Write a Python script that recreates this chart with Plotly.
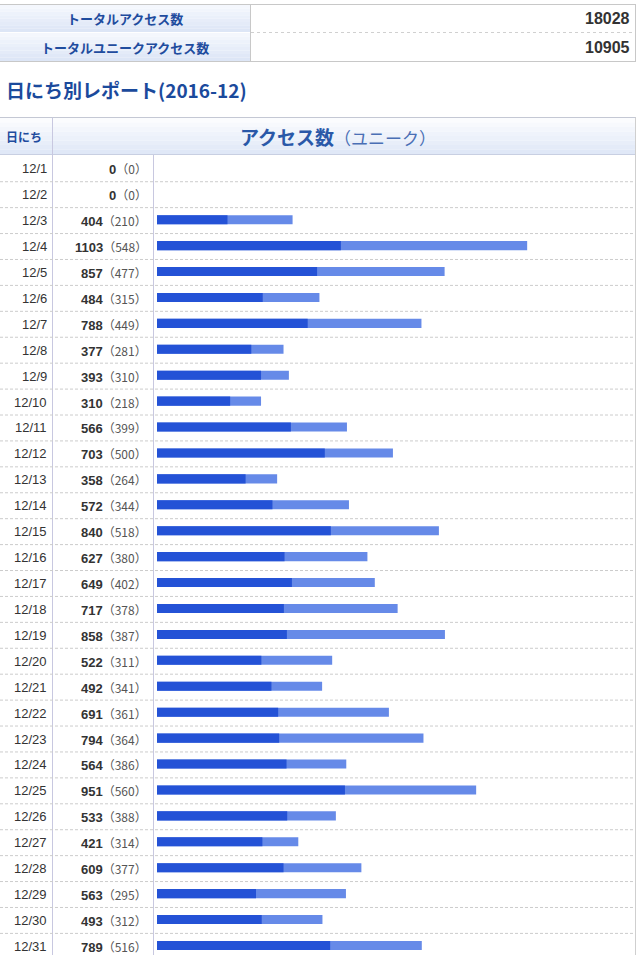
import plotly.graph_objects as go

W, H = 640, 955

dates = [f"12/{d}" for d in range(1, 32)]
total = [0, 0, 404, 1103, 857, 484, 788, 377, 393, 310, 566, 703, 358, 572, 840,
         627, 649, 717, 858, 522, 492, 691, 794, 564, 951, 533, 421, 609, 563, 493, 789]
unique = [0, 0, 210, 548, 477, 315, 449, 281, 310, 218, 399, 500, 264, 344, 518,
          380, 402, 378, 387, 311, 341, 361, 364, 386, 560, 388, 314, 377, 295, 312, 516]

summary_labels = ["トータルアクセス数", "トータルユニークアクセス数"]
summary_values = [18028, 10905]
title_text = "日にち別レポート(2016-12)"
col_day = "日にち"
col_access = "アクセス数"
col_unique = "（ユニーク）"

DARK = "#2452d6"
LIGHT = "#668ae8"
BLUE_TXT = "#1f4c9e"
FONT = "Liberation Sans, Noto Sans CJK JP, sans-serif"
JFONT = "Noto Sans CJK JP, Liberation Sans, sans-serif"

def px(x):
    return x / W

def py(y):
    return 1 - y / H

ROW_TOP = 155.8
ROW_H = 25.92
BAR_X0 = 157
RIGHT = 635.5
SCALE = 0.3356
idx = list(range(len(dates)))

fig = go.Figure()
fig.add_trace(go.Bar(y=idx, x=total, orientation="h", marker=dict(color=LIGHT, line=dict(width=0)),
                     width=0.35, offset=-0.21, hoverinfo="skip", name="total"))
fig.add_trace(go.Bar(y=idx, x=unique, orientation="h", marker=dict(color=DARK, line=dict(width=0)),
                     width=0.35, offset=-0.21, hoverinfo="skip", name="unique"))

shapes = []
annotations = []

def grad_rect(x0, x1, y0, y1, c_top, c_bot, n=8):
    def hx(c):
        return [int(c[i:i + 2], 16) for i in (1, 3, 5)]
    a, b = hx(c_top), hx(c_bot)
    for k in range(n):
        t = k / (n - 1)
        col = "#%02x%02x%02x" % tuple(round(a[j] + (b[j] - a[j]) * t) for j in range(3))
        ya = y0 + (y1 - y0) * k / n
        yb = y0 + (y1 - y0) * (k + 1) / n
        shapes.append(dict(type="rect", xref="paper", yref="paper", x0=px(x0), x1=px(x1),
                           y0=py(ya), y1=py(yb), fillcolor=col, line=dict(width=0), layer="below"))

def hline(x0, x1, y, color, dash="solid", width=1):
    shapes.append(dict(type="line", xref="paper", yref="paper", x0=px(x0), x1=px(x1),
                       y0=py(y), y1=py(y), line=dict(color=color, width=width, dash=dash)))

def vline(x, y0, y1, color, width=1):
    shapes.append(dict(type="line", xref="paper", yref="paper", x0=px(x), x1=px(x),
                       y0=py(y0), y1=py(y1), line=dict(color=color, width=width)))

# Summary table
rows_y = [(4.5, 32.5), (32.5, 61.5)]
for (ya, yb) in rows_y:
    grad_rect(0, 250.5, ya + 0.5, yb - 0.5, "#f4f7fd", "#dde6f6")
hline(0, RIGHT + 0.5, 4.5, "#c8c8c8")
hline(0, RIGHT + 0.5, 61.5, "#c8c8c8")
hline(0, 250.5, 32.5, "#ffffff")
hline(251, RIGHT, 32.5, "#d0d0d0", dash="dot")
vline(250.5, 4.5, 61.5, "#c8c8c8")
vline(RIGHT, 4.5, 61.5, "#c8c8c8")
for (ya, yb), lab, val in zip(rows_y, summary_labels, summary_values):
    yc = (ya + yb) / 2
    annotations.append(dict(text=f"<b>{lab}</b>", xref="paper", yref="paper", x=px(125), y=py(yc),
                            xanchor="center", yanchor="middle", showarrow=False,
                            font=dict(family=JFONT, size=13, color=BLUE_TXT)))
    annotations.append(dict(text=f"<b>{val}</b>", xref="paper", yref="paper", x=px(632), y=py(yc),
                            xanchor="right", yanchor="middle", showarrow=False,
                            font=dict(family=FONT, size=16, color="#333333")))

# Title
annotations.append(dict(text=f"<b>{title_text}</b>", xref="paper", yref="paper", x=px(4), y=py(90),
                        xanchor="left", yanchor="middle", showarrow=False,
                        font=dict(family=JFONT, size=19, color="#1b4a9c")))

# Table header
grad_rect(0, RIGHT, 118, 154, "#fbfcfe", "#e0e8f7")
hline(0, RIGHT + 0.5, 117.5, "#c4c8d4")
hline(0, RIGHT + 0.5, 154.5, "#c8cfe2")
vline(RIGHT, 117.5, 955, "#cfcfcf")
vline(52.5, 117.5, 955, "#c8c8e0")
vline(153.5, 155, 955, "#c8c8e0")
annotations.append(dict(text=f"<b>{col_day}</b>", xref="paper", yref="paper", x=px(4), y=py(136),
                        xanchor="left", yanchor="middle", showarrow=False,
                        font=dict(family=JFONT, size=12, color=BLUE_TXT)))
annotations.append(dict(text=f"<b>{col_access}</b><span style='font-size:17px;color:#4a6fb5'>{col_unique}</span>",
                        xref="paper", yref="paper", x=px(338), y=py(136),
                        xanchor="center", yanchor="middle", showarrow=False,
                        font=dict(family=JFONT, size=19, color="#2a58a8")))

# Row separators and labels
for i in idx[:-1]:
    shapes.append(dict(type="line", xref="paper", yref="y", x0=0, x1=px(RIGHT - 0.5),
                       y0=i + 0.5, y1=i + 0.5, line=dict(color="#cccccc", width=1, dash="3px,2px")))
for i, d, t, u in zip(idx, dates, total, unique):
    annotations.append(dict(text=d, xref="paper", yref="y", x=px(49), y=i,
                            xanchor="right", yanchor="middle", showarrow=False,
                            font=dict(family=FONT, size=13, color="#333333")))
    annotations.append(dict(text=f"<b>{t}</b><span style='font-family:Noto Sans CJK JP;font-size:12px;color:#555555'>（{u}）</span>",
                            xref="paper", yref="y", x=px(149), y=i,
                            xanchor="right", yanchor="middle", showarrow=False,
                            font=dict(family=FONT, size=13, color="#333333")))

x_max = (RIGHT - BAR_X0) / SCALE
y_bottom = -0.5 + (H - ROW_TOP) / ROW_H

fig.update_layout(
    width=W, height=H, margin=dict(l=0, r=0, t=0, b=0),
    paper_bgcolor="white", plot_bgcolor="rgba(0,0,0,0)",
    barmode="overlay", showlegend=False,
    xaxis=dict(domain=[px(BAR_X0), px(RIGHT)], range=[0, x_max], visible=False, fixedrange=True),
    yaxis=dict(domain=[0, py(ROW_TOP)], range=[y_bottom, -0.5], visible=False, fixedrange=True),
    shapes=shapes, annotations=annotations,
)

fig.write_html("out.html", config={"displayModeBar": False},
               post_script="document.body.style.margin='0px';document.body.style.overflow='hidden';")
